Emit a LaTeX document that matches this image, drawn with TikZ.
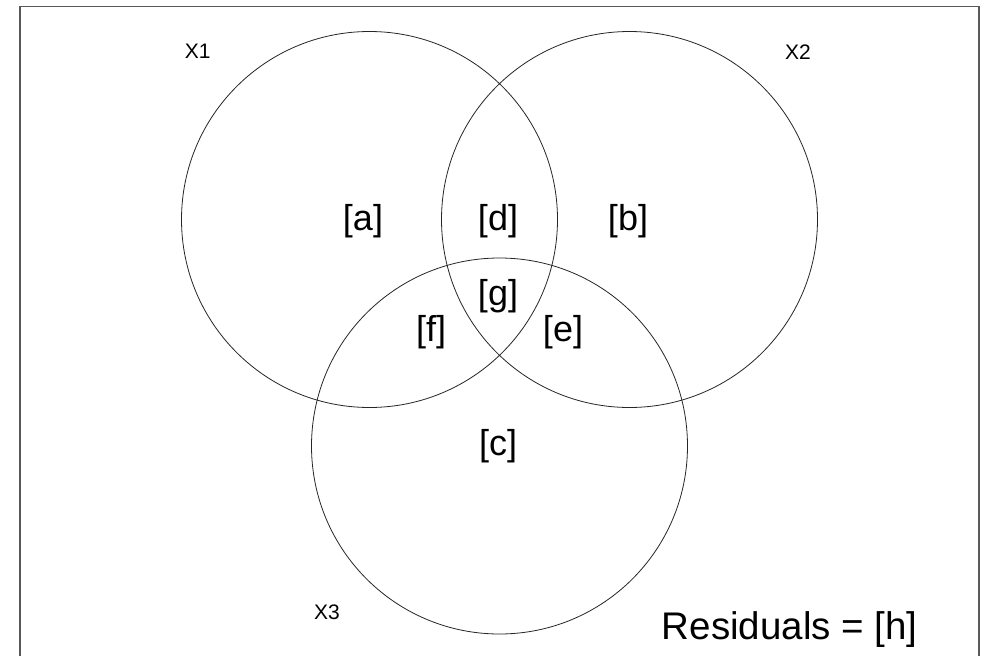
\documentclass[tikz,border=0pt]{standalone}
\usepackage{fontspec}
\setmainfont{Liberation Sans}
\usetikzlibrary{positioning}

\begin{document}
\begin{tikzpicture}[x=1pt,y=-1pt,
  ring/.style={draw=black!85,line width=0.8pt},
  part/.style={font=\fontsize{36}{42}\selectfont,inner sep=0pt},
  varname/.style={font=\fontsize{21}{24}\selectfont,inner sep=0pt},
]
\useasboundingbox (0,0) rectangle (991,656);
\fill[white] (0,0) rectangle (991,656);
% frame, open at the bottom
\draw[black!65,line width=1.5pt] (20,656) -- (20,6.5) -- (979,6.5) -- (979,656);
% circle centres
\coordinate (c1) at (369.5,219.5);
\coordinate (c2) at (629.5,219.5);
\coordinate (c3) at (499.5,446);
\foreach \c in {c1,c2,c3}
  \draw[ring] (\c) circle[radius=188pt];
% variable names
\node[varname] (x1) at (197.8,51.7) {X1};
\node[varname] (x2) at (798,51.7) {X2};
\node[varname] (x3) at (327,612) {X3};
% fractions
\node[part] (pa) at (363,221) {[a]};
\node[part] (pd) at (498,221) {[d]};
\node[part] (pb) at (628,221) {[b]};
\node[part] (pg) at (498,296.5) {[g]};
\node[part] (pf) at (431,332) {[f]};
\node[part] (pe) at (563,332) {[e]};
\node[part] (pc) at (498,446) {[c]};
\node[font=\fontsize{38.5}{44}\selectfont,inner sep=0pt,anchor=base west] (res) at (661.7,639) {Residuals = [h]};
\end{tikzpicture}
\end{document}
